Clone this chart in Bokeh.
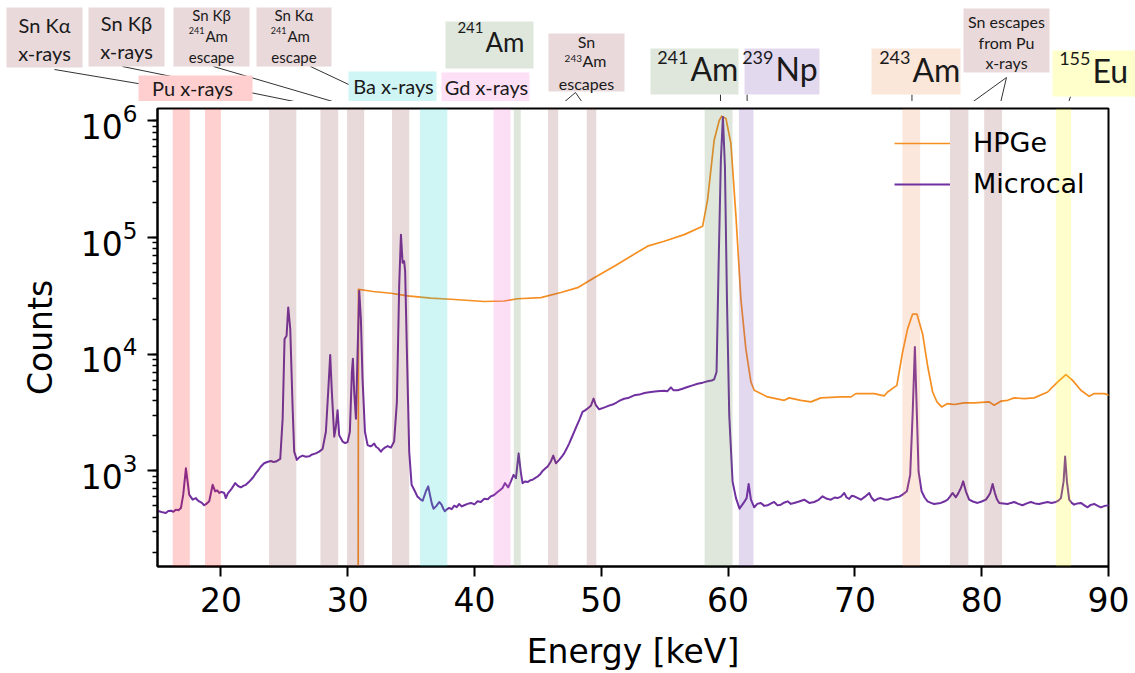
from bokeh.plotting import figure
from bokeh.models import (Range1d, FixedTicker, LogTicker, BoxAnnotation, Legend,
                          LegendItem, ColumnDataSource)
from bokeh.layouts import column
from bokeh.embed import file_html
from bokeh.resources import INLINE
from bokeh.core.properties import value

# ---------------- data ----------------
hpge_e = [30.82, 30.85, 31.2, 32.0, 33.41, 34.72, 36.56, 38.14, 40.77, 42.34, 43.40, 45.24,
          46.81, 48.13, 49.44, 51.02, 52.33, 53.65, 54.96, 56.54, 57.99, 58.38, 58.9, 59.3,
          59.49, 59.83, 60.22, 60.62, 61.01, 61.4, 61.8, 62.06, 63.11, 64.42, 64.82, 65.74,
          66.53, 67.32, 68.9, 69.69, 70.08, 71.52, 72.31, 72.58, 73.31, 73.76, 74.15, 74.55,
          74.89, 75.34, 75.73, 76.13, 76.47, 76.84, 77.31, 77.83, 78.62, 79.41, 80.59, 80.98,
          81.51, 82.04, 82.56, 83.35, 84.14, 85.2, 85.98, 86.64, 87.17, 87.82, 88.48, 88.87,
          89.66, 90.05]
hpge_c = [20, 36000, 35500, 34500, 33300, 31600, 30200, 29600, 28300, 28600, 29900, 30600,
          33800, 37200, 45300, 56900, 69300, 84400, 93000, 106000, 125000, 211000, 684000, 1010000,
          1100000, 1050000, 642000, 152000, 29600, 11100, 5770, 4900, 4300, 4020, 4220, 4020,
          3900, 4220, 4300, 4300, 4590, 4590, 4390, 4740, 5400, 10400, 16400, 22100,
          22100, 14900, 8000, 4740, 3900, 3530, 3770, 3700, 3820, 3820, 3900, 3650,
          3950, 4020, 4220, 4160, 4220, 4740, 5770, 6670, 5960, 4900, 4350, 4590,
          4590, 4440]

mc_e = [14.9, 15.13, 15.4, 15.66, 15.85, 16.06, 16.25, 16.45, 16.65, 16.85, 17.03, 17.24, 17.37,
        17.5, 17.77, 18.03, 18.15, 18.29, 18.5, 18.68, 18.85, 19.08, 19.35, 19.55, 19.7, 19.87,
        20.05, 20.26, 20.39, 20.55, 20.79, 21.13, 21.35, 21.58, 21.8, 21.97, 22.2, 22.37, 22.55,
        22.76, 22.95, 23.15, 23.41, 23.65, 23.94, 24.15, 24.34, 24.5, 24.68, 24.87, 25.02, 25.18,
        25.31, 25.47, 25.65, 25.78, 25.99, 26.2, 26.44, 26.7, 26.96, 27.2, 27.49, 27.75, 28.02,
        28.28, 28.46, 28.62, 28.75, 28.94, 29.07, 29.2, 29.33, 29.6, 29.8, 29.99, 30.17, 30.33,
        30.41, 30.51, 30.65, 30.78, 30.91, 31.04, 31.17, 31.36, 31.57, 31.8, 31.96, 32.09, 32.25,
        32.41, 32.62, 32.8, 32.93, 33.15, 33.41, 33.66, 33.88, 34.06, 34.2, 34.33, 34.45, 34.53,
        34.67, 34.85, 35.04, 35.3, 35.5, 35.64, 35.77, 35.91, 36.17, 36.35, 36.51, 36.64, 36.77,
        37.0, 37.22, 37.4, 37.55, 37.66, 37.85, 38.0, 38.2, 38.4, 38.6, 38.79, 39.0, 39.19, 39.45,
        39.72, 40.0, 40.24, 40.5, 40.77, 41.05, 41.29, 41.55, 41.82, 42.0, 42.21, 42.4, 42.66,
        42.87, 43.08, 43.27, 43.48, 43.66, 43.79, 44.0, 44.19, 44.4, 44.58, 44.8, 44.98, 45.2,
        45.37, 45.6, 45.77, 46.02, 46.21, 46.42, 46.68, 46.9, 47.07, 47.27, 47.47, 47.66, 47.86,
        48.06, 48.26, 48.52, 48.72, 48.92, 49.18, 49.39, 49.57, 49.83, 50.1, 50.36, 50.6, 50.89,
        51.2, 51.49, 51.8, 52.1, 52.59, 53.0, 53.4, 53.91, 54.4, 54.96, 55.2, 55.49, 55.7, 56.02,
        56.4, 56.8, 57.2, 57.59, 58.0, 58.38, 58.7, 58.9, 59.09, 59.25, 59.43, 59.59, 59.75,
        59.91, 60.09, 60.35, 60.62, 60.9, 61.22, 61.46, 61.62, 61.8, 62.06, 62.3, 62.58, 62.85,
        63.11, 63.4, 63.63, 63.9, 64.16, 64.45, 64.69, 64.95, 65.21, 65.6, 66.0, 66.4, 66.79,
        67.1, 67.45, 67.8, 68.11, 68.4, 68.63, 68.9, 69.16, 69.35, 69.55, 69.75, 69.95, 70.2,
        70.47, 70.8, 71.13, 71.3, 71.52, 71.8, 72.05, 72.3, 72.58, 72.9, 73.23, 73.5, 73.76,
        74.1, 74.36, 74.55, 74.73, 74.89, 75.02, 75.26, 75.5, 75.73, 76.0, 76.25, 76.5, 76.78,
        77.05, 77.31, 77.5, 77.7, 77.96, 78.15, 78.36, 78.54, 78.75, 79.01, 79.3, 79.67, 80.0,
        80.33, 80.5, 80.67, 80.86, 81.04, 81.2, 81.38, 81.7, 82.04, 82.3, 82.56, 82.9, 83.22,
        83.55, 83.88, 84.2, 84.53, 84.85, 85.2, 85.5, 85.85, 86.05, 86.25, 86.46, 86.58, 86.72,
        86.9, 87.1, 87.29, 87.55, 87.82, 88.1, 88.35, 88.6, 88.87, 89.15, 89.4, 89.7, 90.05, 90.2]
mc_c = [450, 450, 440, 435, 452, 455, 445, 464, 458, 480, 624, 1050, 811,
        624, 565, 583, 560, 547, 530, 506, 520, 547, 758, 667, 680, 645,
        660, 645, 583, 640, 688, 783, 740, 721, 745, 758, 800, 837, 880,
        955, 1010, 1089, 1161, 1190, 1215, 1190, 1200, 1230, 1262, 2800, 13500, 14400,
        25200, 16400, 3650, 1460, 1240, 1310, 1350, 1320, 1330, 1380, 1410, 1460, 1540,
        2160, 4740, 9860, 4740, 1960, 2390, 3300, 2020, 1780, 1730, 1760, 2160, 7030,
        9120, 4740, 2800, 10400, 34800, 20000, 6150, 2160, 1660, 1620, 1660, 1710, 1600,
        1560, 1460, 1540, 1580, 1630, 1580, 1780, 3900, 38500, 106000, 60800, 62800, 51600,
        10400, 1460, 758, 667, 600, 583, 565, 553, 667, 735, 604, 520, 473,
        500, 540, 512, 470, 450, 470, 480, 468, 502, 488, 519, 495, 506, 520,
        530, 515, 547, 540, 575, 570, 604, 620, 658, 680, 711, 783, 721,
        811, 922, 865, 1410, 955, 783, 810, 800, 830, 837, 870, 893, 940,
        998, 1050, 1089, 1200, 1350, 1161, 1240, 1330, 1410, 1550, 1720, 1920, 2160,
        2430, 2720, 3200, 3300, 3420, 3610, 4160, 3650, 3370, 3450, 3530, 3620, 3700,
        3850, 4020, 4150, 4200, 4440, 4500, 4650, 4740, 4800, 4860, 4800, 5190, 4900, 4900,
        5050, 5230, 5400, 5580, 5700, 5850, 5950, 6080, 7030, 56900, 462000, 1080000, 406000,
        29600, 3000, 811, 583, 473, 530, 583, 770, 565, 486, 520, 530, 500,
        506, 525, 540, 505, 512, 535, 547, 520, 530, 545, 565, 530, 540,
        560, 604, 575, 565, 590, 583, 600, 645, 590, 573, 610, 604, 585,
        565, 600, 645, 590, 553, 575, 583, 570, 565, 580, 592, 600, 624,
        667, 922, 3000, 11500, 3000, 986, 667, 590, 547, 530, 519, 525, 530,
        545, 565, 600, 645, 592, 640, 711, 811, 667, 565, 545, 530, 545,
        565, 600, 645, 770, 645, 570, 530, 525, 519, 530, 540, 520, 506,
        525, 540, 525, 519, 530, 540, 530, 540, 555, 583, 811, 1325, 811,
        565, 530, 512, 525, 530, 505, 486, 510, 519, 500, 486, 500, 506, 500]

x_ticks = [20, 30, 40, 50, 60, 70, 80, 90]
series_names = ["HPGe", "Microcal"]

# highlighted energy bands [keV] and their group
band_lo = [16.2, 18.75, 23.8, 27.85, 29.95, 33.5, 35.7, 41.5, 43.1, 45.8, 48.85, 58.15,
           60.85, 73.75, 77.5, 80.2, 85.85]
band_hi = [17.55, 20.0, 25.95, 29.25, 31.3, 34.85, 37.85, 42.85, 43.65, 46.6, 49.6, 60.35,
           62.0, 75.15, 78.95, 81.6, 87.05]
band_kind = ["Pu", "Pu", "Sn", "Sn", "Sn", "Sn", "Ba", "Gd", "Am241", "Sn", "Sn", "Am241",
             "Np", "Am243", "Sn", "Sn", "Eu"]

# ---------------- styles ----------------
BAND_COL = {"Pu": "#ff1414", "Sn": "#8c4146", "Ba": "#0fcdcd", "Gd": "#f55fcd",
            "Am241": "#5f8755", "Np": "#7341aa", "Am243": "#f08750", "Eu": "#fafa05"}
BOX_COL = {"Pu": "#ffcfcf", "Sn": "#e9d9da", "Ba": "#cff5f5", "Gd": "#fde0f6",
           "Am241": "#dfe7dd", "Np": "#e3d9ef", "Am243": "#fbe6da", "Eu": "#ffffcc"}
C_HPGE = "#f58f22"
C_MC = "#7030a0"

W = 1135
TOP_H = 101
MAIN_H = 673 - TOP_H
FRAME_TOP = 108          # page y of the frame's top edge
FRAME_BOTTOM = 569       # page y of the frame's bottom edge
FRAME_L = 157
FRAME_R = 1108
X_MIN, X_MAX = 15, 90
Y_MIN, Y_MAX = 151, 1.28e6


def e2px(e):
    return FRAME_L + (e - X_MIN) * (FRAME_R - FRAME_L) / (X_MAX - X_MIN)


# ---------------- main plot ----------------
p = figure(width=W, height=MAIN_H, x_range=Range1d(X_MIN, X_MAX),
           y_range=Range1d(Y_MIN, Y_MAX), y_axis_type="log",
           output_backend="svg", toolbar_location=None,
           min_border_left=FRAME_L, min_border_right=W - FRAME_R,
           min_border_top=FRAME_TOP - TOP_H,
           min_border_bottom=673 - FRAME_BOTTOM)
p.frame_align = False
p.xgrid.visible = False
p.ygrid.visible = False
p.outline_line_color = "black"
p.outline_line_width = 2
p.outline_line_alpha = 1
p.background_fill_color = "white"
p.border_fill_color = "white"

r1 = p.line(hpge_e, hpge_c, line_color=C_HPGE, line_width=1.7, line_join="round")
r2 = p.line(mc_e, mc_c, line_color=C_MC, line_width=2.0, line_join="round")

for lo, hi, k in zip(band_lo, band_hi, band_kind):
    p.add_layout(BoxAnnotation(left=lo, right=hi, fill_color=BAND_COL[k], fill_alpha=0.2,
                               line_color=None))

for ax in (p.xaxis[0], p.yaxis[0]):
    ax.axis_line_width = 2
    ax.axis_line_color = "black"
    ax.major_tick_line_width = 2
    ax.major_tick_line_color = "black"
    ax.major_tick_out = 10
    ax.major_tick_in = 0
    ax.major_label_text_font = "DejaVu Sans"
    ax.major_label_text_font_size = "33px"
    ax.major_label_text_color = "black"
    ax.axis_label_text_font = "DejaVu Sans"
    ax.axis_label_text_font_size = "33px"
    ax.axis_label_text_font_style = "normal"
    ax.axis_label_text_color = "black"
    ax.major_label_standoff = 10

p.xaxis.ticker = FixedTicker(ticks=x_ticks)
p.xaxis.minor_tick_line_color = None
p.xaxis.axis_label = "Energy [keV]"
p.xaxis.axis_label_standoff = 17

p.yaxis.ticker = LogTicker(num_minor_ticks=10)
p.yaxis.minor_tick_out = 5
p.yaxis.minor_tick_in = 0
p.yaxis.minor_tick_line_width = 1.5
p.yaxis.minor_tick_line_color = "black"
p.yaxis.axis_label = "Counts"
p.yaxis.axis_label_standoff = 18

legend = Legend(items=[LegendItem(label=series_names[0], renderers=[r1]),
                       LegendItem(label=series_names[1], renderers=[r2])],
                location=(737, 367))
legend.label_text_font = "DejaVu Sans"
legend.label_text_font_size = "27px"
legend.label_text_color = "black"
legend.glyph_width = 56
legend.glyph_height = 30
legend.label_height = 30
legend.label_standoff = 23
legend.spacing = 10
legend.padding = 0
legend.margin = 0
legend.border_line_alpha = 0
legend.background_fill_alpha = 0
p.add_layout(legend)

# ---------------- annotation strip above the plot ----------------
top = figure(width=W, height=TOP_H, x_range=Range1d(0, W), y_range=Range1d(TOP_H, 0),
             output_backend="svg", toolbar_location=None, min_border=0,
             x_axis_location=None, y_axis_location=None)
top.frame_align = False
top.outline_line_color = None
top.xgrid.visible = False
top.ygrid.visible = False
top.background_fill_color = "white"
top.border_fill_color = "white"

# leader lines (drawn first, boxes cover them)
seg = dict(x0=[], y0=[], x1=[], y1=[])
def leader(x0, y0, energy):
    seg["x0"].append(x0); seg["y0"].append(y0)
    seg["x1"].append(e2px(energy)); seg["y1"].append(FRAME_TOP)

leader(54, 69, 25.2)
leader(122, 66, 28.5)
leader(213, 66, 30.7)
leader(310, 66, 34.1)
leader(575, 92, 46.47)
leader(575, 92, 48.84)
leader(e2px(59.4), 94, 59.4)
leader(e2px(61.5), 94, 61.5)
leader(e2px(74.5), 94, 74.5)
leader(1006, 77, 78.57)
leader(1006, 77, 81.38)
leader(1070, 96, 86.7)
top.segment(x0="x0", y0="y0", x1="x1", y1="y1", source=ColumnDataSource(seg),
            line_color="#333333", line_width=1)

# boxes: left, right, top, bottom (page px), kind
BOT = 107
boxes = [(6, 82, 7, 67, "Sn"), (88, 164, 7, 66, "Sn"), (173, 249, 7, 66, "Sn"),
         (256, 331, 7, 66, "Sn"), (138, 252, 75, BOT, "Pu"), (348, 436, 71, BOT, "Ba"),
         (445, 533, 21, 68, "Am241"), (441, 529, 72, BOT, "Gd"), (548, 624, 33, 91, "Sn"),
         (650, 738, 48, 94, "Am241"), (744, 819, 48, 94, "Np"), (871, 960, 48, 94, "Am243"),
         (963, 1049, 8, 72, "Sn"), (1052, 1135, 50, 96, "Eu")]
top.quad(left=[b[0] for b in boxes], right=[b[1] for b in boxes],
         top=[b[2] for b in boxes], bottom=[b[3] for b in boxes],
         fill_color=[BOX_COL[b[4]] for b in boxes], line_color=None)

# texts: x, baseline y, text, size(px), align
texts = [
    (44, 32, "Sn Kα", 20, "center"), (44, 60, "x-rays", 20, "center"),
    (126, 30, "Sn Kβ", 20, "center"), (126, 58, "x-rays", 20, "center"),
    (211, 20, "Sn Kβ", 15, "center"), (204, 34, "241", 9, "right"),
    (205, 41.5, "Am", 15, "left"), (211, 62, "escape", 15, "center"),
    (293.5, 20, "Sn Kα", 15, "center"), (286, 34, "241", 9, "right"),
    (287, 41.5, "Am", 15, "left"), (293.5, 62, "escape", 15, "center"),
    (192, 95, "Pu x-rays", 20, "center"),
    (393, 93, "Ba x-rays", 20, "center"),
    (483, 33, "241", 15, "right"), (485, 52, "Am", 26, "left"),
    (486, 94, "Gd x-rays", 20, "center"),
    (586, 47, "Sn", 16, "center"), (581.5, 61.5, "243", 10, "right"),
    (582, 66.7, "Am", 16, "left"), (586, 89, "escapes", 16, "center"),
    (688, 64, "241", 18, "right"), (690, 81, "Am", 32, "left"),
    (773, 64, "239", 18, "right"), (775, 81, "Np", 32, "left"),
    (910, 64, "243", 18, "right"), (912, 82, "Am", 32, "left"),
    (1006, 27, "Sn escapes", 16, "center"), (1006, 48, "from Pu", 16, "center"),
    (1006, 68, "x-rays", 16, "center"),
    (1090, 65.5, "155", 18, "right"), (1092, 83, "Eu", 32, "left"),
]
# the text glyph sits ~0.4 em lower than the requested alphabetic baseline
tsrc = ColumnDataSource(dict(x=[t[0] for t in texts],
                             y=[t[1] - 0.4 * t[3] for t in texts],
                             text=[t[2] for t in texts],
                             size=["%dpx" % t[3] for t in texts],
                             align=[t[4] for t in texts]))
top.text(x="x", y="y", text="text", source=tsrc, text_font=value("Lato"),
         text_font_size="size", text_align="align", text_baseline="alphabetic",
         text_color="#1a1a1a")

layout = column(top, p, spacing=0)
open("out.html", "w").write(file_html(layout, INLINE))
